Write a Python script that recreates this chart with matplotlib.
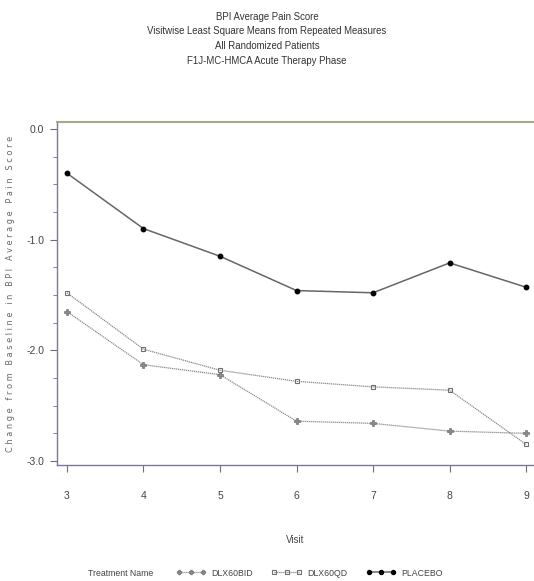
import matplotlib
matplotlib.use("Agg")
import matplotlib.pyplot as plt
from matplotlib.ticker import MultipleLocator

plt.rcParams['font.family'] = ['Liberation Sans Narrow', 'Liberation Sans', 'DejaVu Sans']

visits = [3, 4, 5, 6, 7, 8, 9]
dlx60bid = [-1.65, -2.13, -2.22, -2.64, -2.66, -2.73, -2.75]
dlx60qd = [-1.48, -1.99, -2.18, -2.28, -2.33, -2.36, -2.85]
placebo = [-0.40, -0.90, -1.15, -1.46, -1.48, -1.21, -1.43]
series_names = ["DLX60BID", "DLX60QD", "PLACEBO"]
title_lines = ["BPI Average Pain Score",
               "Visitwise Least Square Means from Repeated Measures",
               "All Randomized Patients",
               "F1J-MC-HMCA Acute Therapy Phase"]
yticks = [0.0, -1.0, -2.0, -3.0]

fig = plt.figure(figsize=(5.34, 5.81), dpi=100)
ax = fig.add_axes([57/534, (581-465)/581, (533-57)/534, (465-122)/581])

l1, = ax.plot(visits, dlx60bid, color='#8a8a8a', lw=0.9, ls=(0, (1, 0.6)),
              marker='P', ms=3.8, mfc='#8a8a8a', mec='#606060', mew=0.4)
l2, = ax.plot(visits, dlx60qd, color='#8a8a8a', lw=0.9, ls=(0, (1, 0.6)),
              marker='s', ms=3.5, mfc='none', mec='#707070', mew=0.8)
l3, = ax.plot(visits, placebo, color='#666666', lw=1.1,
              marker='o', ms=3.2, mfc='black', mec='black')

ax.set_xlim(2.87, 9.09)
ax.set_ylim(-3.036, 0.063)
ax.set_xticks(visits)
ax.set_yticks(yticks)
ax.set_yticklabels([f"{v:.1f}" for v in yticks])
ax.yaxis.set_minor_locator(MultipleLocator(0.25))
ax.tick_params(axis='both', which='major', length=5, width=0.8, color='#707070',
               labelsize=7.5, labelcolor='#444444')
ax.tick_params(axis='y', which='minor', length=3, width=0.6, color='#707070')
ax.tick_params(axis='x', pad=14)
ax.tick_params(axis='y', pad=4)
ax.spines['right'].set_visible(False)
ax.spines['top'].set_color('#a8a888')
ax.spines['top'].set_linewidth(1.5)
ax.spines['left'].set_color('#7a7a9a')
ax.spines['bottom'].set_color('#7a7a9a')
ax.spines['left'].set_linewidth(1.0)
ax.spines['bottom'].set_linewidth(1.0)

ax.set_ylabel("C h a n g e   f r o m   B a s e l i n e   i n   B P I   A v e r a g e   P a i n   S c o r e",
              family='DejaVu Sans', fontsize=5.9, color='#666666')
ax.yaxis.set_label_coords(-42/476, 0.5)
ax.set_xlabel("Visit", fontsize=7, color='#444444', labelpad=24)

for i, t in enumerate(title_lines):
    fig.text(0.5, 1 - (17 + 14.5*i)/581, t, ha='center', va='center',
             fontsize=6.9, color='#333333')

fig.text(88/534, 1 - 573/581, "Treatment Name", ha='left', va='center',
         fontsize=6.3, color='#444444')
fig.legend([l1, l2, l3], series_names, loc='center left',
           bbox_to_anchor=(168/534, 1 - 573/581), ncol=3, frameon=False,
           fontsize=6.3, handlelength=3.4, handletextpad=0.6, columnspacing=2.2,
           numpoints=3, markerscale=0.9, labelcolor='#444444')

fig.savefig("out.png", dpi=100)
